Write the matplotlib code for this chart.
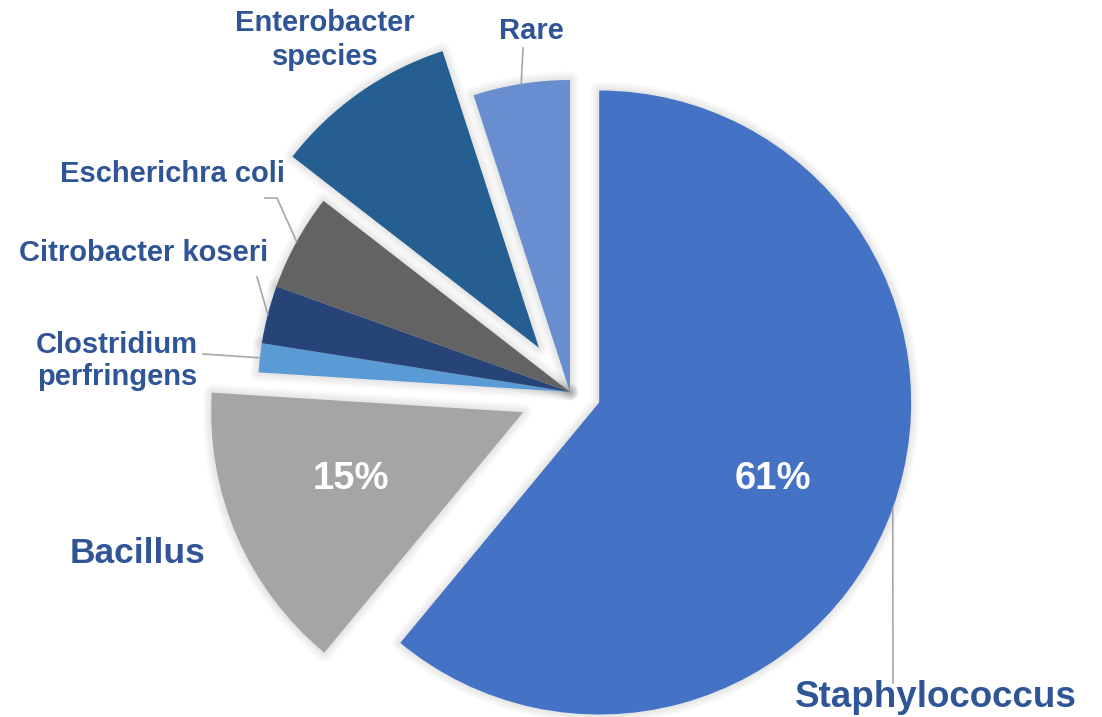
import matplotlib
matplotlib.use('Agg')
import matplotlib.pyplot as plt
import matplotlib.patches as mpatches
import numpy as np

W, H = 1102, 717

# Isolates by organism, clockwise from 12 o'clock
categories = ['Staphylococcus', 'Bacillus', 'Clostridium\nperfringens',
              'Citrobacter koseri', 'Escherichra coli', 'Enterobacter\nspecies', 'Rare']
shares = [61, 15, 1.5, 3, 5, 9.5, 5]
show_pct = [True, True, False, False, False, False, False]

colors = ['#4472C4', '#A5A5A5', '#5B9BD5', '#264478', '#636363', '#255E91', '#698ED0']
explode = [31, 51, 0, 0, 0, 54, 0]
label_color = '#2F5597'
leader_color = '#A6A6A6'

# label placement in pixels from the top-left: x centre, last baseline, size, line spacing
label_style = [
    (936, 707, 26.5, 1.2),
    (138, 563, 25.5, 1.2),
    (117, 385, 21, 1.2),
    (144, 261, 21, 1.2),
    (173, 182, 21, 1.2),
    (325, 65, 21, 1.27),
    (531, 39, 21, 1.2),
]
# leader lines start at these points and run to the middle of the slice's arc
leaders = [
    [(893, 683)],
    None,
    [(203, 354)],
    [(257, 277)],
    [(265, 198), (277, 198)],
    None,
    [(523, 48)],
]
pct_pos = [(773, 489), (351, 489)]

plt.rcParams['font.family'] = ['Liberation Sans', 'DejaVu Sans']

fig = plt.figure(figsize=(W / 100, H / 100), dpi=100)
ax = fig.add_axes([0, 0, 1, 1])

wedges, _ = ax.pie(shares, colors=colors, explode=explode, startangle=90,
                   counterclock=False, radius=312, center=(570, H - 392),
                   wedgeprops=dict(linewidth=0))
ax.set_xlim(0, W)
ax.set_ylim(0, H)
ax.set_aspect('equal')
ax.axis('off')

# soft glow around each slice
for w in wedges:
    w.set_zorder(3)
    for lw in (12, 9, 6, 3):
        glow = mpatches.Wedge(w.center, w.r, w.theta1, w.theta2, facecolor='none',
                              edgecolor='black', linewidth=lw, alpha=0.025,
                              joinstyle='round', zorder=2)
        ax.add_patch(glow)

for w, name, (x, yb, size, ls), pts in zip(wedges, categories, label_style, leaders):
    ax.text(x, H - yb, name, ha='center', va='baseline', fontsize=size,
            fontweight='bold', color=label_color, linespacing=ls, zorder=5)
    if pts:
        mid = np.deg2rad((w.theta1 + w.theta2) / 2)
        end = (w.center[0] + w.r * np.cos(mid), w.center[1] + w.r * np.sin(mid))
        xs = [p[0] for p in pts] + [end[0]]
        ys = [H - p[1] for p in pts] + [end[1]]
        ax.plot(xs, ys, color=leader_color, linewidth=1.2, zorder=4)

k = 0
for v, flag in zip(shares, show_pct):
    if flag:
        x, yb = pct_pos[k]
        ax.text(x, H - yb, f"{v:.0f}%", ha='center', va='baseline', fontsize=27.5,
                fontweight='bold', color='white', zorder=5)
        k += 1

fig.savefig('out.png', dpi=100, facecolor='white')
